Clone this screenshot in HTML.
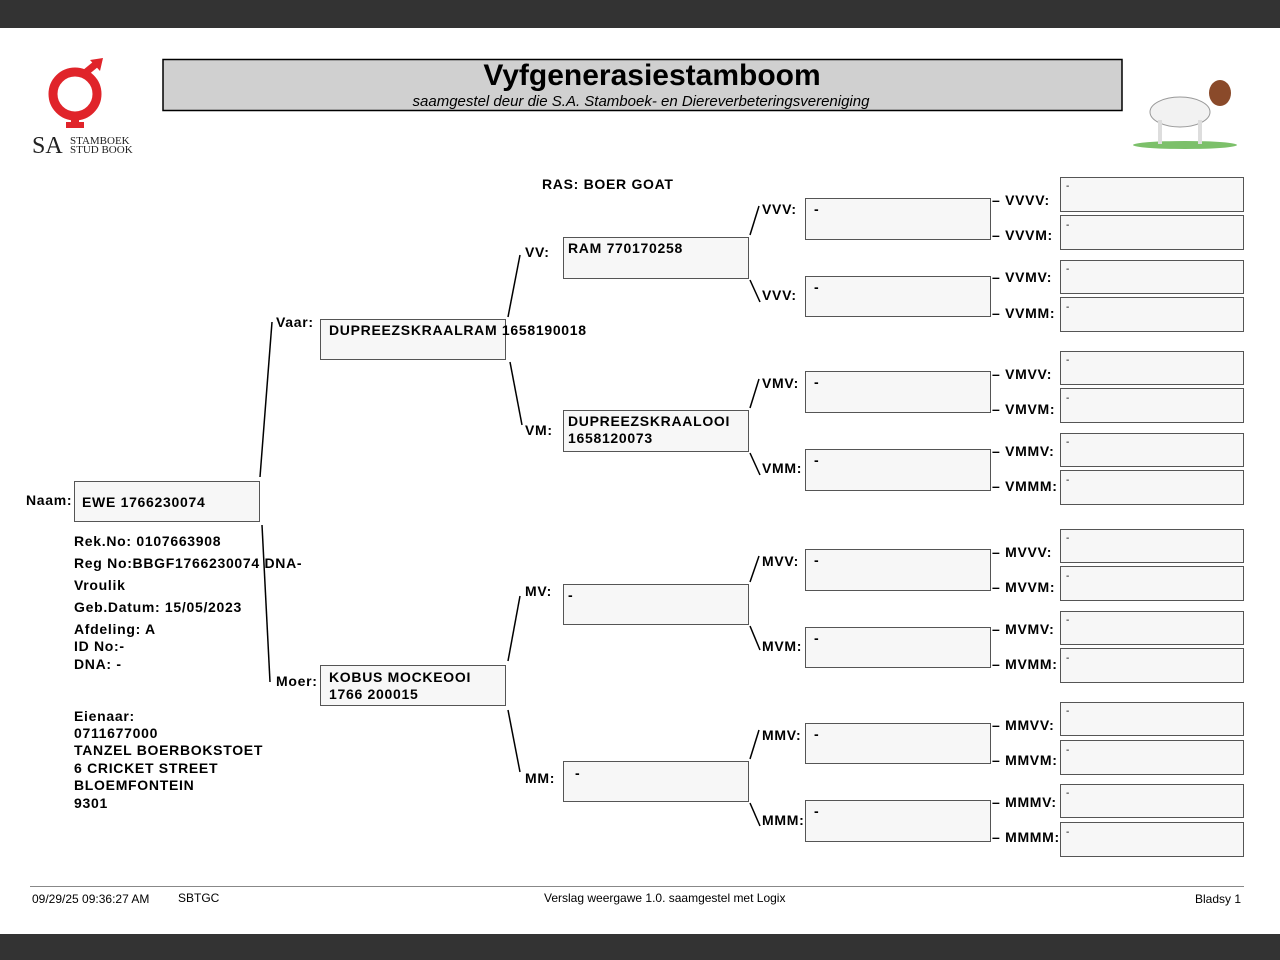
<!DOCTYPE html>
<html><head><meta charset="utf-8"><style>
body{margin:0;background:#fff;}
svg{display:block;font-family:"Liberation Sans",Arial,sans-serif;}
.b{font-weight:bold;font-size:14px;fill:#000;letter-spacing:0.7px}
.s{font-size:12px;fill:#000}
</style></head><body>
<svg width="1280" height="960" viewBox="0 0 1280 960" xmlns="http://www.w3.org/2000/svg">
<rect x="0" y="0" width="1280" height="28" fill="#333"/>
<rect x="0" y="934" width="1280" height="26" fill="#333"/>
<g fill="none" stroke="#e0242a" stroke-width="9">
<circle cx="75" cy="94" r="22"/>
</g>
<rect x="71" y="113" width="8" height="14" fill="#e0242a"/>
<rect x="66" y="122" width="18" height="6" fill="#e0242a"/>
<line x1="85" y1="73" x2="96" y2="64" stroke="#e0242a" stroke-width="7"/>
<polygon points="90,60 103,58 100,71" fill="#e0242a"/>
<text x="32" y="153" font-family="Liberation Serif" font-size="24" fill="#222">SA</text>
<text x="70" y="144" font-family="Liberation Serif" font-size="11" fill="#222">STAMBOEK</text>
<text x="70" y="153" font-family="Liberation Serif" font-size="11" fill="#222">STUD BOOK</text>
<ellipse cx="1185" cy="145" rx="52" ry="4" fill="#7cc06a"/>
<ellipse cx="1180" cy="112" rx="30" ry="15" fill="#f2f2f2" stroke="#999"/>
<ellipse cx="1220" cy="93" rx="11" ry="13" fill="#8a4a2a"/>
<rect x="1158" y="120" width="4" height="24" fill="#ddd"/><rect x="1198" y="120" width="4" height="24" fill="#ddd"/>
<rect x="163" y="59.5" width="959" height="51" fill="#d0d0d0" stroke="#000" stroke-width="1.5"/>
<text x="652" y="85" text-anchor="middle" font-weight="bold" font-size="30">Vyfgenerasiestamboom</text>
<text x="641" y="106" text-anchor="middle" font-style="italic" font-size="15">saamgestel deur die S.A. Stamboek- en Diereverbeteringsvereniging</text>
<text class="b" x="542" y="189">RAS: BOER GOAT</text>
<g fill="#f7f7f7" stroke="#555" stroke-width="1">
<rect x="74.5" y="481.5" width="185" height="40"/>
<rect x="320.5" y="319.5" width="185" height="40"/>
<rect x="320.5" y="665.5" width="185" height="40"/>
<rect x="563.5" y="237.5" width="185" height="41"/>
<rect x="563.5" y="410.5" width="185" height="41"/>
<rect x="563.5" y="584.5" width="185" height="40"/>
<rect x="563.5" y="761.5" width="185" height="40"/>
<rect x="805.5" y="198.5" width="185" height="41"/>
<rect x="805.5" y="276.5" width="185" height="40"/>
<rect x="805.5" y="371.5" width="185" height="41"/>
<rect x="805.5" y="449.5" width="185" height="41"/>
<rect x="805.5" y="549.5" width="185" height="41"/>
<rect x="805.5" y="627.5" width="185" height="40"/>
<rect x="805.5" y="723.5" width="185" height="40"/>
<rect x="805.5" y="800.5" width="185" height="41"/>
<rect x="1060.5" y="177.5" width="183" height="34"/>
<rect x="1060.5" y="215.5" width="183" height="34"/>
<rect x="1060.5" y="260.5" width="183" height="33"/>
<rect x="1060.5" y="297.5" width="183" height="34"/>
<rect x="1060.5" y="351.5" width="183" height="33"/>
<rect x="1060.5" y="388.5" width="183" height="34"/>
<rect x="1060.5" y="433.5" width="183" height="33"/>
<rect x="1060.5" y="470.5" width="183" height="34"/>
<rect x="1060.5" y="529.5" width="183" height="33"/>
<rect x="1060.5" y="566.5" width="183" height="34"/>
<rect x="1060.5" y="611.5" width="183" height="33"/>
<rect x="1060.5" y="648.5" width="183" height="34"/>
<rect x="1060.5" y="702.5" width="183" height="33"/>
<rect x="1060.5" y="740.5" width="183" height="34"/>
<rect x="1060.5" y="784.5" width="183" height="33"/>
<rect x="1060.5" y="822.5" width="183" height="34"/>
</g>
<g stroke="#000" stroke-width="1.5">
<line x1="260" y1="477" x2="272" y2="322"/>
<line x1="262" y1="525" x2="270" y2="682"/>
<line x1="508" y1="317" x2="520" y2="255"/>
<line x1="510" y1="362" x2="522" y2="425"/>
<line x1="508" y1="661" x2="520" y2="596"/>
<line x1="508" y1="710" x2="520" y2="772"/>
<line x1="750" y1="235" x2="759" y2="206"/><line x1="750" y1="280" x2="760" y2="302"/>
<line x1="750" y1="408" x2="759" y2="379"/><line x1="750" y1="453" x2="760" y2="475"/>
<line x1="750" y1="582" x2="759" y2="556"/><line x1="750" y1="626" x2="760" y2="650"/>
<line x1="750" y1="759" x2="759" y2="730"/><line x1="750" y1="803" x2="760" y2="826"/>
</g>
<g class="b">
<text x="26" y="505">Naam:</text>
<text x="82" y="507">EWE 1766230074</text>
<text x="276" y="327">Vaar:</text>
<text x="329" y="335">DUPREEZSKRAALRAM 1658190018</text>
<text x="276" y="686">Moer:</text>
<text x="329" y="682">KOBUS MOCKEOOI</text>
<text x="329" y="699">1766 200015</text>
<text x="525" y="257">VV:</text>
<text x="525" y="435">VM:</text>
<text x="525" y="596">MV:</text>
<text x="525" y="783">MM:</text>
<text x="568" y="253">RAM 770170258</text>
<text x="568" y="426">DUPREEZSKRAALOOI</text>
<text x="568" y="443">1658120073</text>
<text x="568" y="600">-</text>
<text x="575" y="778">-</text>
<text x="762" y="214">VVV:</text><text x="762" y="300">VVV:</text>
<text x="762" y="388">VMV:</text><text x="762" y="473">VMM:</text>
<text x="762" y="566">MVV:</text><text x="762" y="651">MVM:</text>
<text x="762" y="740">MMV:</text><text x="762" y="825">MMM:</text>
<text x="814" y="214">-</text><text x="814" y="292">-</text>
<text x="814" y="387">-</text><text x="814" y="465">-</text>
<text x="814" y="565">-</text><text x="814" y="643">-</text>
<text x="814" y="739">-</text><text x="814" y="816">-</text>
<text x="992" y="205">– VVVV:</text><text x="992" y="240">– VVVM:</text>
<text x="992" y="282">– VVMV:</text><text x="992" y="318">– VVMM:</text>
<text x="992" y="379">– VMVV:</text><text x="992" y="414">– VMVM:</text>
<text x="992" y="456">– VMMV:</text><text x="992" y="491">– VMMM:</text>
<text x="992" y="557">– MVVV:</text><text x="992" y="592">– MVVM:</text>
<text x="992" y="634">– MVMV:</text><text x="992" y="669">– MVMM:</text>
<text x="992" y="730">– MMVV:</text><text x="992" y="765">– MMVM:</text>
<text x="992" y="807">– MMMV:</text><text x="992" y="842">– MMMM:</text>
<text x="74" y="546">Rek.No: 0107663908</text>
<text x="74" y="568">Reg No:BBGF1766230074 DNA-</text>
<text x="74" y="590">Vroulik</text>
<text x="74" y="612">Geb.Datum: 15/05/2023</text>
<text x="74" y="634">Afdeling: A</text>
<text x="74" y="651">ID No:-</text>
<text x="74" y="669">DNA: -</text>
<text x="74" y="721">Eienaar:</text>
<text x="74" y="738">0711677000</text>
<text x="74" y="755">TANZEL BOERBOKSTOET</text>
<text x="74" y="773">6 CRICKET STREET</text>
<text x="74" y="790">BLOEMFONTEIN</text>
<text x="74" y="808">9301</text>
</g>
<g font-size="10" fill="#000">
<text x="1066" y="189">-</text><text x="1066" y="228">-</text><text x="1066" y="272">-</text><text x="1066" y="310">-</text>
<text x="1066" y="363">-</text><text x="1066" y="401">-</text><text x="1066" y="445">-</text><text x="1066" y="483">-</text>
<text x="1066" y="541">-</text><text x="1066" y="579">-</text><text x="1066" y="623">-</text><text x="1066" y="661">-</text>
<text x="1066" y="714">-</text><text x="1066" y="753">-</text><text x="1066" y="796">-</text><text x="1066" y="835">-</text>
</g>
<line x1="30" y1="886.5" x2="1244" y2="886.5" stroke="#888" stroke-width="1"/>
<text class="s" x="32" y="903">09/29/25 09:36:27 AM</text>
<text class="s" x="178" y="902">SBTGC</text>
<text class="s" x="544" y="902">Verslag weergawe 1.0. saamgestel met Logix</text>
<text class="s" x="1195" y="903">Bladsy 1</text>
</svg>
</body></html>
